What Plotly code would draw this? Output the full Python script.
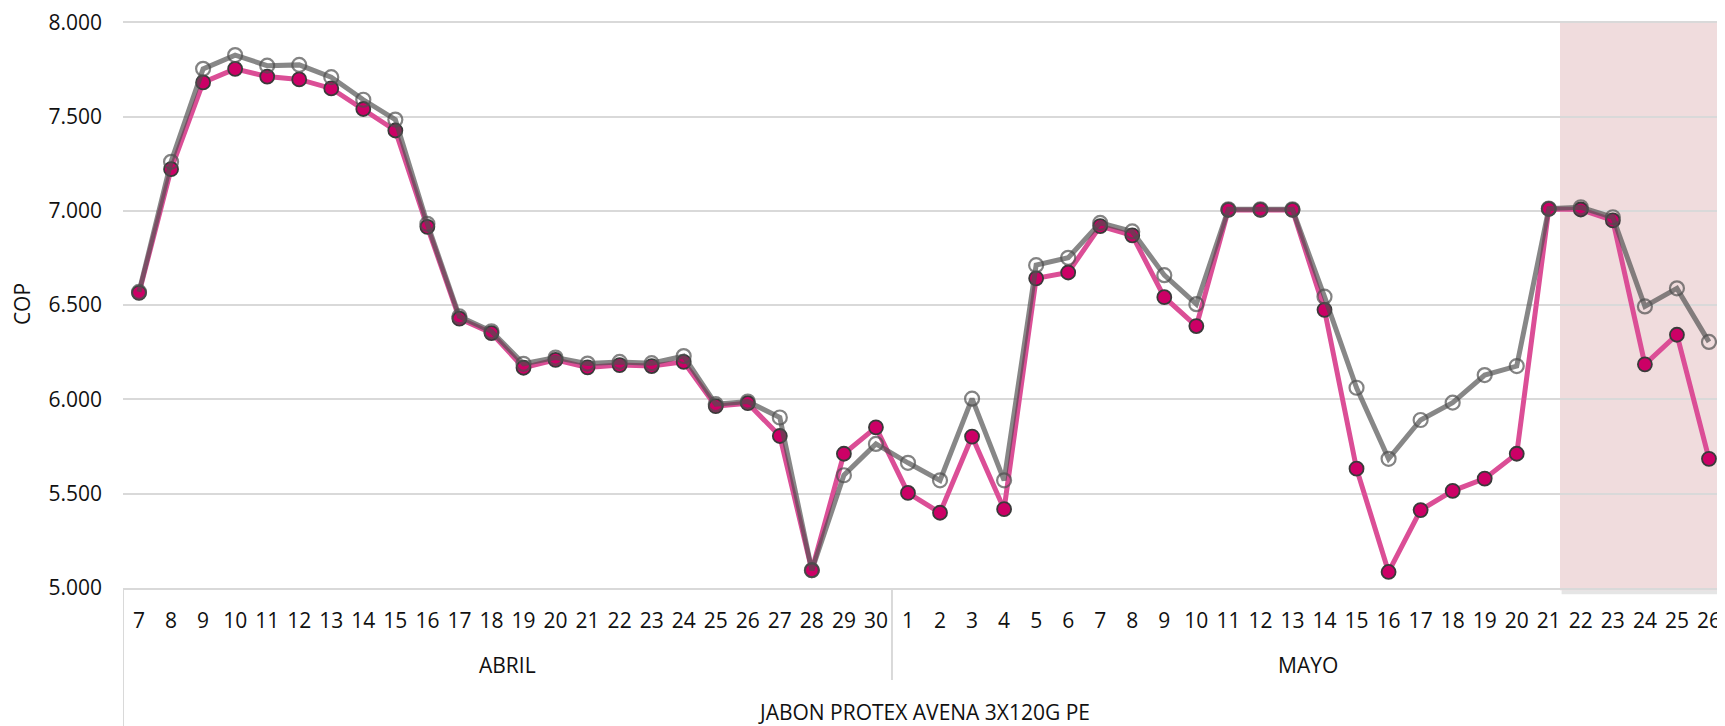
import plotly.graph_objects as go

# Days shown on the x axis, grouped by month
dias_abril = [7, 8, 9, 10, 11, 12, 13, 14, 15, 16, 17, 18, 19, 20, 21, 22, 23, 24,
              25, 26, 27, 28, 29, 30]
dias_mayo = [1, 2, 3, 4, 5, 6, 7, 8, 9, 10, 11, 12, 13, 14, 15, 16, 17, 18, 19, 20,
             21, 22, 23, 24, 25, 26]
meses = ['ABRIL', 'MAYO']
producto = 'JABON PROTEX AVENA 3X120G PE'

# COP values (pink series)
cop_rosa_abril = [6565, 7221, 7681, 7753, 7712, 7697, 7649, 7540, 7426, 6915, 6428, 6352,
                  6168, 6210, 6170, 6182, 6177, 6199, 5964, 5980, 5806, 5094, 5712, 5852]
cop_rosa_mayo = [5504, 5399, 5803, 5418, 6642, 6673, 6919, 6870, 6542, 6389, 7005, 7005,
                 7005, 6475, 5633, 5085, 5413, 5515, 5580, 5712, 7010, 7007, 6949, 6186,
                 6343, 5685]

# COP values (gray series)
cop_gris_abril = [6570, 7260, 7753, 7826, 7770, 7774, 7709, 7589, 7484, 6931, 6440, 6361,
                  6189, 6222, 6190, 6199, 6192, 6230, 5975, 5989, 5904, 5094, 5598, 5764]
cop_gris_mayo = [5664, 5571, 6004, 5571, 6712, 6751, 6936, 6891, 6659, 6505, 7008, 7008,
                 7008, 6545, 6062, 5685, 5891, 5983, 6129, 6177, 7012, 7019, 6966, 6493,
                 6589, 6305]

dias = dias_abril + dias_mayo
x = list(range(len(dias)))
cop_rosa = cop_rosa_abril + cop_rosa_mayo
cop_gris = cop_gris_abril + cop_gris_mayo

FONT = 'Open Sans'
GRID = '#D9D9D9'
TXT = '#111111'
Y_MIN, Y_MAX = 5000, 8012  # a little headroom so the 8.000 gridline is drawn

fig = go.Figure()

fig.add_trace(go.Scatter(
    x=x, y=cop_rosa, mode='lines+markers', name='rosa',
    line=dict(color='#DB4E96', width=5),
    marker=dict(size=14, color='#CC0066', line=dict(color='#3A3A3A', width=1.8)),
))
fig.add_trace(go.Scatter(
    x=x, y=cop_gris, mode='lines+markers', name='gris',
    line=dict(color='rgba(78,78,78,0.68)', width=5),
    marker=dict(size=14, color='rgba(0,0,0,0)',
                line=dict(color='rgba(78,78,78,0.7)', width=2.2)),
))

n_abril = len(dias_abril)
n_total = len(dias)
top = (8000 - Y_MIN) / (Y_MAX - Y_MIN)

# shaded band over the last days of May
fig.add_shape(type='rect', xref='x', yref='paper', x0=44.35, x1=n_total - 0.5,
              y0=-0.004, y1=top, fillcolor='#F0DCDD', line_width=0, layer='below')
fig.add_shape(type='rect', xref='x', yref='paper', x0=44.4, x1=n_total - 0.55,
              y0=-0.011, y1=-0.004, fillcolor='rgba(0,0,0,0.10)', line_width=0,
              layer='below')

# category dividers below the axis
fig.add_shape(type='line', xref='x', yref='paper', x0=-0.5, x1=-0.5, y0=0, y1=-0.243,
              line=dict(color=GRID, width=2))
fig.add_shape(type='line', xref='x', yref='paper', x0=n_abril - 0.5, x1=n_abril - 0.5,
              y0=0, y1=-0.162, line=dict(color=GRID, width=2))

# month and product labels
centros = [(n_abril - 1) / 2, n_abril + (len(dias_mayo) - 1) / 2]
for mes, cx in zip(meses, centros):
    fig.add_annotation(x=cx, y=-0.136, xref='x', yref='paper', text=mes,
                       showarrow=False, yanchor='middle',
                       font=dict(family=FONT, size=21, color=TXT))
fig.add_annotation(x=(n_total - 1) / 2, y=-0.218, xref='x', yref='paper', text=producto,
                   showarrow=False, yanchor='middle',
                   font=dict(family=FONT, size=21, color=TXT))

fig.update_xaxes(
    range=[-0.5, n_total - 0.5], tickmode='array', tickvals=x, ticktext=[str(d) for d in dias],
    showgrid=False, zeroline=False, showline=True, linecolor=GRID, linewidth=2,
    ticks='', ticklabelstandoff=13, tickangle=0, ticklabeloverflow='allow',
    tickfont=dict(family=FONT, size=21, color=TXT),
)
fig.update_yaxes(
    range=[Y_MIN, Y_MAX], tick0=5000, dtick=500, tickformat=',d', showgrid=True,
    gridcolor=GRID, gridwidth=2, zeroline=False, ticks='', ticklabelstandoff=20,
    ticklabeloverflow='allow',
    tickfont=dict(family=FONT, size=21, color=TXT),
    title=dict(text='COP', standoff=12, font=dict(family=FONT, size=21, color=TXT)),
)

# the page body adds an 8px margin, so the figure is 8px smaller than the window
fig.update_layout(
    width=1717, height=718,
    margin=dict(l=115, r=0, t=8, b=138),
    paper_bgcolor='white', plot_bgcolor='white',
    showlegend=False, separators=',.',
)

fig.write_html('out.html')
